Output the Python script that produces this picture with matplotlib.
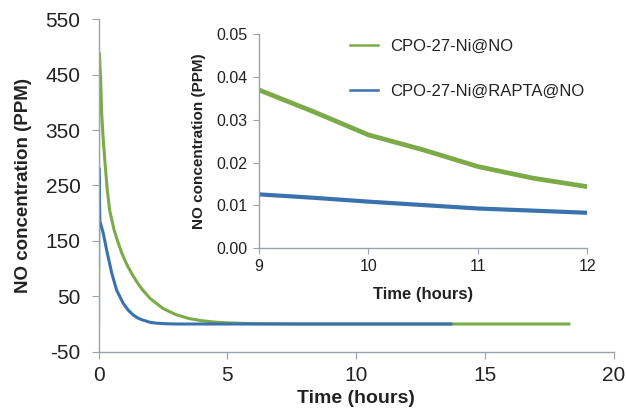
import matplotlib
matplotlib.use("Agg")
import matplotlib.pyplot as plt

plt.rcParams['font.family'] = ['Liberation Sans', 'DejaVu Sans']
plt.rcParams['axes.unicode_minus'] = False

# Full release profile (hours, ppm)
green_t = [0.0, 0.0, 0.03, 0.08, 0.12, 0.17, 0.25, 0.33, 0.43, 0.6, 0.75, 0.9, 1.1,
           1.3, 1.5, 1.7, 2.0, 2.5, 3.0, 3.5, 4.0, 4.5, 5.0, 6.0, 8.0, 18.25]
green_v = [0, 489, 489, 440, 380, 340, 290, 245, 205, 170, 148, 128, 107,
           90, 75, 62, 46, 28, 17, 10, 6, 3.5, 2, 0.7, 0, 0]

blue_t = [0.0, 0.01, 0.05, 0.18, 0.31, 0.51, 0.70, 0.96, 1.15, 1.35, 1.55, 1.73,
          2.0, 2.25, 2.6, 3.0, 13.67]
blue_v = [100, 282, 186, 164, 134, 92, 61, 37, 25, 16, 10, 7,
          3, 1.5, 0.5, 0, 0]

# Tail of the release, 9-12 h (ppm)
tail_t = [9.0, 9.5, 10.0, 10.5, 11.0, 11.5, 12.0]
tail_green = [0.0370, 0.0319, 0.0265, 0.0230, 0.0191, 0.0164, 0.0144]
tail_blue = [0.0126, 0.0118, 0.0109, 0.0101, 0.0093, 0.0088, 0.0083]

labels = ["CPO-27-Ni@NO", "CPO-27-Ni@RAPTA@NO"]
main_yticks = [-50, 50, 150, 250, 350, 450, 550]
main_xticks = [0, 5, 10, 15, 20]
inset_yticks = [0.00, 0.01, 0.02, 0.03, 0.04, 0.05]
inset_xticks = [9, 10, 11, 12]

GREEN = "#7aab48"
BLUE = "#3a72ad"
SPINE = "#9aa3ad"
TXT = "#222222"

fig = plt.figure(figsize=(6.26, 4.13), dpi=100)

ax = fig.add_axes([0.1575, 0.1484, 0.8233, 0.8049])
ax.plot(green_t, green_v, color=GREEN, lw=2.2, solid_joinstyle='round')
ax.plot(blue_t, blue_v, color=BLUE, lw=2.2, solid_joinstyle='round')
ax.set_xlim(0, 20)
ax.set_ylim(-50, 550)
ax.set_xticks(main_xticks)
ax.set_yticks(main_yticks)
for s in ['top', 'right']:
    ax.spines[s].set_visible(False)
for s in ['left', 'bottom']:
    ax.spines[s].set_color(SPINE)
    ax.spines[s].set_linewidth(1.0)
ax.tick_params(axis='both', direction='out', length=5, color=SPINE,
               labelsize=15, labelcolor=TXT)
ax.tick_params(axis='y', pad=8)
ax.tick_params(axis='x', pad=5)
ax.set_xlabel("Time (hours)", fontsize=14, fontweight='bold', color=TXT, labelpad=4)
ax.set_ylabel("NO concentration (PPM)", fontsize=13.5, fontweight='bold',
              color=TXT, labelpad=10)

ins = fig.add_axes([0.4137, 0.3988, 0.5245, 0.5182])
ins.patch.set_alpha(0)
ins.plot(tail_t, tail_green, color=GREEN, lw=3.4, solid_capstyle='butt')
ins.plot(tail_t, tail_blue, color=BLUE, lw=3.0, solid_capstyle='butt')
ins.set_xlim(9, 12)
ins.set_ylim(0, 0.05)
ins.set_xticks(inset_xticks)
ins.set_yticks(inset_yticks)
ins.set_yticklabels([f"{v:.2f}" for v in inset_yticks])
for s in ['top', 'right']:
    ins.spines[s].set_visible(False)
for s in ['left', 'bottom']:
    ins.spines[s].set_color(SPINE)
    ins.spines[s].set_linewidth(1.0)
ins.tick_params(axis='both', direction='out', length=4, color=SPINE,
                labelsize=11.5, labelcolor=TXT, pad=4)
ins.set_xlabel("Time (hours)", fontsize=12, fontweight='bold', color=TXT, labelpad=9)
ins.set_ylabel("NO concentration (PPM)", fontsize=11, fontweight='bold', color=TXT,
               labelpad=8)

leg_handles = [plt.Line2D([], [], color=GREEN, lw=1.8),
               plt.Line2D([], [], color=BLUE, lw=1.8)]
fig.legend(leg_handles, labels, loc='upper left', bbox_to_anchor=(0.559, 0.905),
           frameon=False, fontsize=12, handlelength=1.7, handletextpad=0.7,
           labelspacing=1.8, borderpad=0, borderaxespad=0, labelcolor=TXT)

fig.savefig("out.png", dpi=100)
